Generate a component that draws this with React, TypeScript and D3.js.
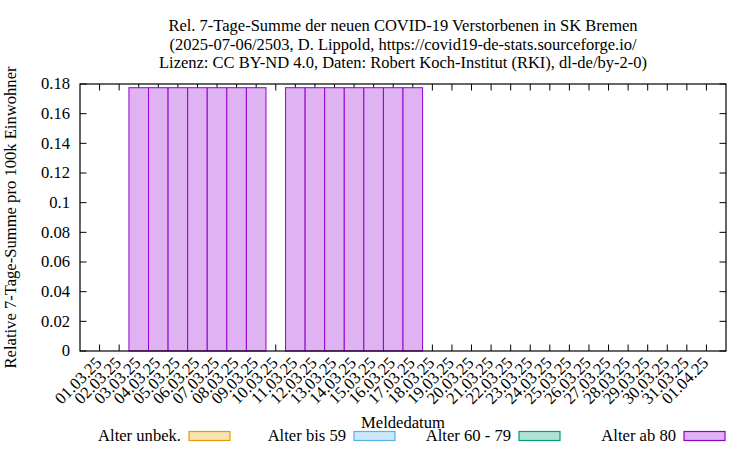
import React from "react";
import * as d3 from "d3";

const titleLines = [
  "Rel. 7-Tage-Summe der neuen COVID-19 Verstorbenen in SK Bremen",
  "(2025-07-06/2503, D. Lippold, https://covid19-de-stats.sourceforge.io/",
  "Lizenz: CC BY-ND 4.0, Daten: Robert Koch-Institut (RKI), dl-de/by-2-0)",
];

const dates = [
  "01.03.25", "02.03.25", "03.03.25", "04.03.25", "05.03.25", "06.03.25", "07.03.25", "08.03.25",
  "09.03.25", "10.03.25", "11.03.25", "12.03.25", "13.03.25", "14.03.25", "15.03.25", "16.03.25",
  "17.03.25", "18.03.25", "19.03.25", "20.03.25", "21.03.25", "22.03.25", "23.03.25", "24.03.25",
  "25.03.25", "26.03.25", "27.03.25", "28.03.25", "29.03.25", "30.03.25", "31.03.25", "01.04.25",
];

const alterUnbek = [0,0,0,0,0,0,0,0,0,0,0,0,0,0,0,0,0,0,0,0,0,0,0,0,0,0,0,0,0,0,0,0];
const alterBis59 = [0,0,0,0,0,0,0,0,0,0,0,0,0,0,0,0,0,0,0,0,0,0,0,0,0,0,0,0,0,0,0,0];
const alter60bis79 = [0,0,0,0,0,0,0,0,0,0,0,0,0,0,0,0,0,0,0,0,0,0,0,0,0,0,0,0,0,0,0,0];
const alterAb80 = [
  0, 0, 0.1775, 0.1775, 0.1775, 0.1775, 0.1775, 0.1775, 0.1775, 0,
  0.1775, 0.1775, 0.1775, 0.1775, 0.1775, 0.1775, 0.1775,
  0, 0, 0, 0, 0, 0, 0, 0, 0, 0, 0, 0, 0, 0, 0,
];

const seriesNames = ["Alter unbek.", "Alter bis 59", "Alter 60 - 79", "Alter ab 80"];
const yTicks = [0, 0.02, 0.04, 0.06, 0.08, 0.1, 0.12, 0.14, 0.16, 0.18];

const strokeColors = ["#e69f00", "#56b4e9", "#009e73", "#9400d3"];
const fillColors = ["#f8e2b3", "#cce8f8", "#b2e2d5", "#dfb2f2"];

const W = 750, H = 450;
const L = 80, R = 726, T = 84, B = 351;
const FONT = "'Liberation Serif', 'Times New Roman', serif";

export default function App() {
  const x = d3.scaleLinear().domain([-1, 32]).range([L, R]);
  const y = d3.scaleLinear().domain([0, 0.18]).range([B, T]);

  const rows = dates.map((d, i) => ({
    i,
    s0: alterUnbek[i],
    s1: alterBis59[i],
    s2: alter60bis79[i],
    s3: alterAb80[i],
  }));
  const stack = d3.stack<any>().keys(["s0", "s1", "s2", "s3"]);
  const layers = stack(rows);

  const tickLen = 6.5;
  const cx = (L + R) / 2;

  return (
    <svg width={W} height={H} style={{ position: "absolute", left: 0, top: 0, background: "#fff" }}
      fontFamily={FONT} fontSize={16.6}>
      <rect x={0} y={0} width={W} height={H} fill="#fff" />
      {titleLines.map((t, k) => (
        <text key={k} x={cx} y={31 + k * 18.5} textAnchor="middle" fill="#000" fontSize={16.5}>{t}</text>
      ))}

      {/* ticks (drawn under bars) */}
      <g stroke="#000" strokeWidth={1}>
        {dates.map((d, i) => (
          <g key={i}>
            <line x1={x(i)} x2={x(i)} y1={B} y2={B - tickLen} />
            <line x1={x(i)} x2={x(i)} y1={T} y2={T + tickLen} />
          </g>
        ))}
        {yTicks.map((v, k) => (
          <g key={k}>
            <line x1={L} x2={L + tickLen} y1={y(v)} y2={y(v)} />
            <line x1={R} x2={R - tickLen} y1={y(v)} y2={y(v)} />
          </g>
        ))}
      </g>

      {/* bars */}
      {layers.map((layer, li) => (
        <g key={li} fill={fillColors[li]} stroke={strokeColors[li]} strokeWidth={1}>
          {layer.map((seg, i) =>
            seg[1] - seg[0] > 0 ? (
              <rect key={i} x={x(i - 0.5)} width={x(i + 0.5) - x(i - 0.5)}
                y={y(seg[1])} height={y(seg[0]) - y(seg[1])} />
            ) : null
          )}
        </g>
      ))}

      {/* border */}
      <rect x={L} y={T} width={R - L} height={B - T} fill="none" stroke="#000" strokeWidth={1.2} />

      {/* y tick labels */}
      {yTicks.map((v, k) => (
        <text key={k} x={L - 10} y={y(v)} dy="0.33em" textAnchor="end">{d3.format("")(v)}</text>
      ))}

      {/* x tick labels */}
      {dates.map((d, i) => (
        <text key={i} transform={`translate(${x(i) + 3},${B + 13}) rotate(-45)`} textAnchor="end">{d}</text>
      ))}

      {/* axis labels */}
      <text x={cx} y={428} textAnchor="middle">Meldedatum</text>
      <text transform={`translate(16,${(T + B) / 2}) rotate(-90)`} textAnchor="middle">
        Relative 7-Tage-Summe pro 100k Einwohner
      </text>

      {/* legend */}
      {seriesNames.map((n, k) => {
        const sx = 189 + k * 165;
        return (
          <g key={k}>
            <text x={sx - 8} y={441} textAnchor="end">{n}</text>
            <rect x={sx} y={431.5} width={41} height={9} fill={fillColors[k]} stroke={strokeColors[k]} strokeWidth={1.2} />
          </g>
        );
      })}
    </svg>
  );
}
